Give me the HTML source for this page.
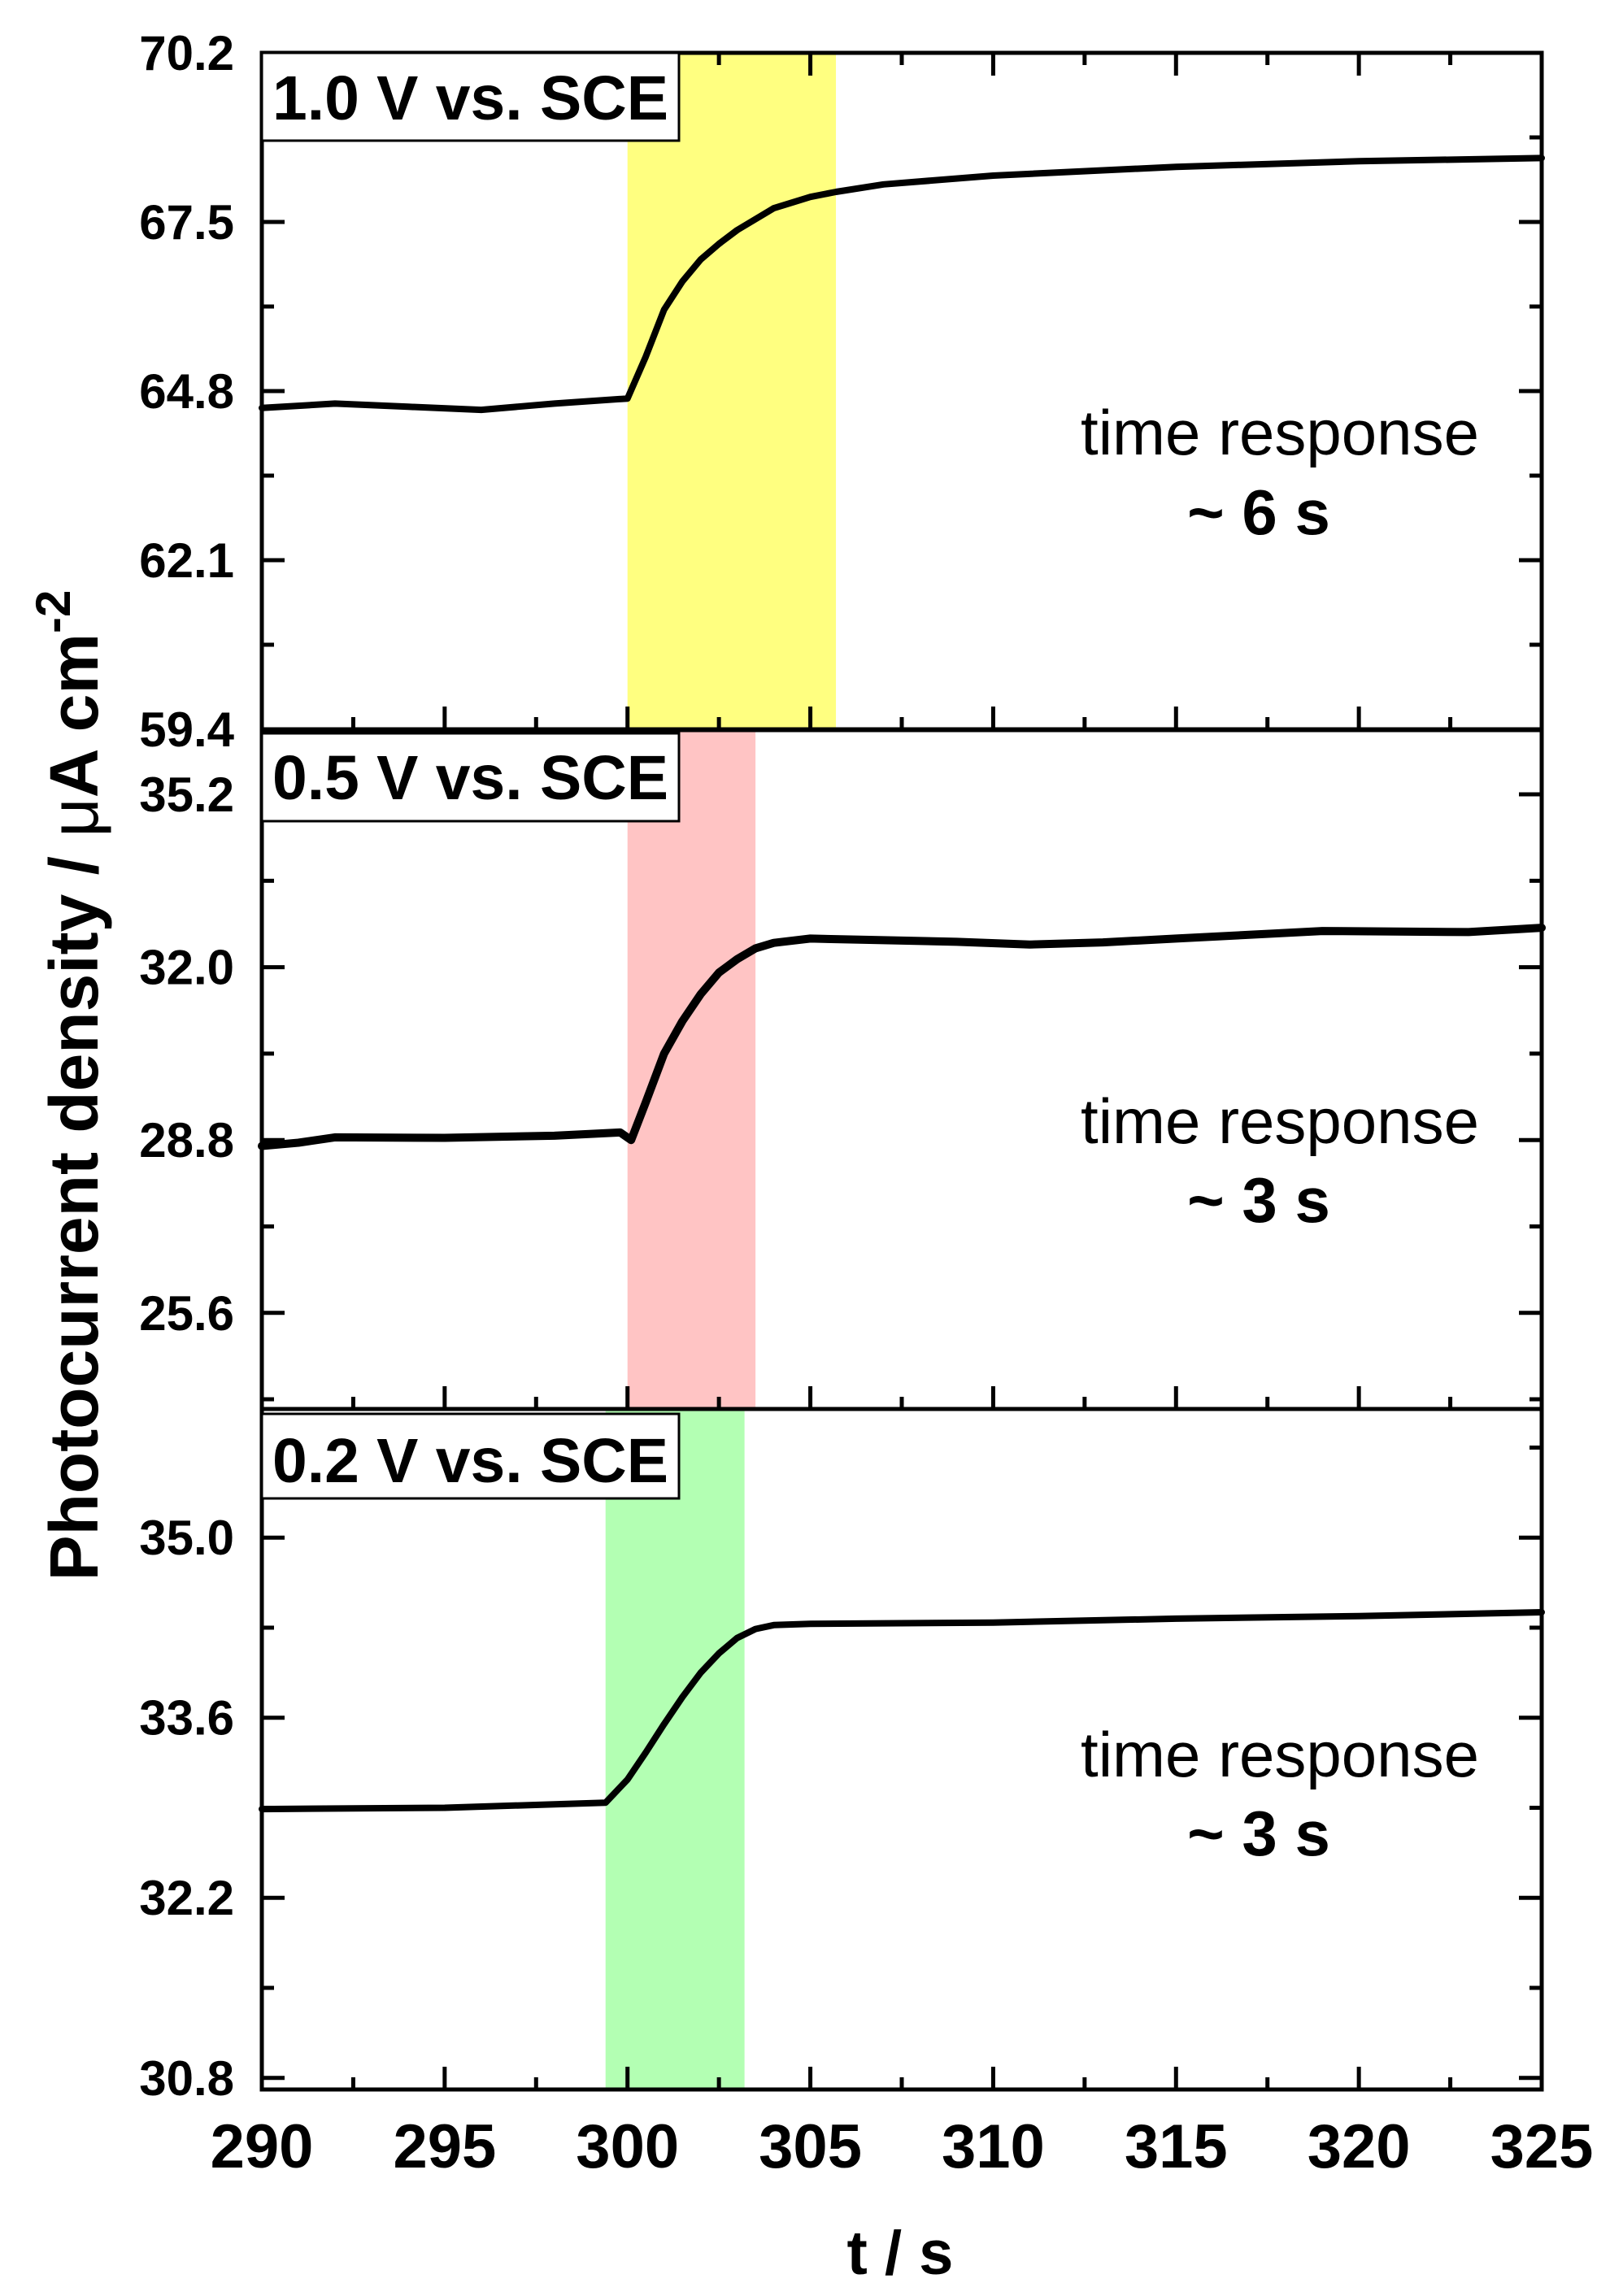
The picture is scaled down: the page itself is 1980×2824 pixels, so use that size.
<!DOCTYPE html>
<html><head><meta charset="utf-8"><style>
html,body{margin:0;padding:0;background:#fff;}
svg{display:block;font-family:"Liberation Sans",Arial,sans-serif;}
</style></head><body>
<svg id="chart" width="1980" height="2824" viewBox="0 0 1980 2824" xmlns="http://www.w3.org/2000/svg"></svg>
<script>
const xTicks = [290,295,300,305,310,315,320,325];
const t1 = [290,292,294,296,298,300,300.5,301,301.5,302,302.5,303,304,305,305.7,307,310,315,320,325];
const v1 = [64.53,64.6,64.55,64.5,64.6,64.68,65.35,66.1,66.55,66.9,67.15,67.37,67.72,67.9,67.98,68.1,68.24,68.38,68.47,68.52];
const t2 = [290,291,292,295,298,299.8,300.1,300.5,301,301.5,302,302.5,303,303.5,304,305,307,309,311,313,315,317,319,321,323,325];
const v2 = [28.69,28.75,28.85,28.84,28.88,28.94,28.8,29.5,30.4,31.0,31.5,31.9,32.15,32.35,32.45,32.53,32.5,32.47,32.42,32.46,32.53,32.6,32.67,32.66,32.65,32.73];
const t3 = [290,295,299.4,300,300.5,301,301.5,302,302.5,303,303.5,304,305,310,315,320,325];
const v3 = [32.89,32.9,32.94,33.12,33.33,33.55,33.76,33.95,34.1,34.22,34.29,34.32,34.33,34.34,34.37,34.39,34.42];
const yTicks1 = [70.2,67.5,64.8,62.1,59.4];
const yTicks2 = [35.2,32.0,28.8,25.6];
const yTicks3 = [35.0,33.6,32.2,30.8];
const labels = ["1.0 V vs. SCE","0.5 V vs. SCE","0.2 V vs. SCE"];
const responses = ["~ 6 s","~ 3 s","~ 3 s"];
const bands = [[300,305.7],[300,303.5],[299.4,303.2]];

const NS="http://www.w3.org/2000/svg";
const svg=document.getElementById('chart');
const L=322,R=1896;
const xs=t=>L+(t-290)/(325-290)*(R-L);
function mk(tag,attrs,parent){const e=document.createElementNS(NS,tag);for(const k in attrs)e.setAttribute(k,attrs[k]);(parent||svg).appendChild(e);return e;}

const panels=[
 {top:65,bot:897,ymax:70.2,ymin:59.4,ticks:yTicks1,minStep:1.35,t:t1,v:v1,color:'#ffff80',box:[65,173,147],resp:[559,657],topTicks:true},
 {top:898,bot:1733,ymax:36.39,ymin:23.82,ticks:yTicks2,minStep:1.6,t:t2,v:v2,color:'#ffc4c4',box:[902,1010,983],resp:[1406,1503],topTicks:false},
 {top:1733,bot:2570,ymax:36.0,ymin:30.71,ticks:yTicks3,minStep:0.7,t:t3,v:v3,color:'#b3ffb3',box:[1739,1843,1823],resp:[2185,2282],topTicks:false}
];

panels.forEach((p,i)=>{
  const ys=v=>p.top+(p.ymax-v)/(p.ymax-p.ymin)*(p.bot-p.top);
  const g=mk('g',{});
  
  
  const b=mk('rect',{x:xs(bands[i][0]),y:p.top,width:xs(bands[i][1])-xs(bands[i][0]),height:p.bot-p.top,fill:p.color},g);
  
  
  const all=[];
  p.ticks.forEach(v=>all.push([v,28]));
  const base=p.ticks[0];
  for(let k=-4;k<20;k++){const v=base+p.minStep-k*2*p.minStep; if(v<p.ymax&&v>p.ymin) all.push([v,15]);}
  all.forEach(([v,len])=>{
    const y=ys(v); if(y<p.top-1||y>p.bot+1) return;
    const a=mk('line',{x1:L,x2:L+len,y1:y,y2:y,stroke:'#000','stroke-width':5},g);
    
    
    const c=mk('line',{x1:R,x2:R-len,y1:y,y2:y,stroke:'#000','stroke-width':5},g);
    
    
  });
  p.ticks.forEach(v=>{
    const tx=mk('text',{x:288,y:ys(v)+21,'text-anchor':'end','font-size':60,'font-weight':'bold'},g);
    tx.textContent=v.toFixed(1);
    
    
  });
  for(let t=290;t<=325;t+=2.5){
    const len=(t%5===0)?28:15;
    const a=mk('line',{x1:xs(t),x2:xs(t),y1:p.bot,y2:p.bot-len,stroke:'#000','stroke-width':5},g);
    
    
    if(p.topTicks){
      const c=mk('line',{x1:xs(t),x2:xs(t),y1:p.top,y2:p.top+len,stroke:'#000','stroke-width':5},g);
      
      
    }
  }
  const d=p.t.map((t,j)=>(j?'L':'M')+xs(t).toFixed(1)+','+ys(p.v[j]).toFixed(1)).join(' ');
  const path=mk('path',{d:d,fill:'none',stroke:'#000','stroke-width':(i===1?10:8),'stroke-linejoin':'round','stroke-linecap':'round'},g);
  
  
  const fr=mk('rect',{x:L,y:p.top,width:R-L,height:p.bot-p.top,fill:'none',stroke:'#000','stroke-width':5},g);
  
  
  const bx=mk('rect',{x:L,y:p.box[0],width:513,height:p.box[1]-p.box[0],fill:'#fff',stroke:'#000','stroke-width':3},g);
  
  
  const lt=mk('text',{x:335,y:p.box[2],'font-size':77,'font-weight':'bold',textLength:487,lengthAdjust:'spacingAndGlyphs'},g);
  lt.textContent=labels[i];
  
  
  const r1=mk('text',{x:1574,y:p.resp[0],'font-size':78,'text-anchor':'middle'},g);
  r1.textContent='time response';
  
  
  const r2=mk('text',{x:1548,y:p.resp[1],'font-size':78,'font-weight':'bold','text-anchor':'middle'},g);
  r2.textContent=responses[i];
  
  
});
xTicks.forEach(t=>{
  const tx=mk('text',{x:xs(t),y:2666,'text-anchor':'middle','font-size':76,'font-weight':'bold'});
  tx.textContent=t;
  
  
});
const xt=mk('text',{x:1107,y:2797,'text-anchor':'middle','font-size':76,'font-weight':'bold'});
xt.textContent='t / s';


const yt=mk('text',{x:0,y:0,'text-anchor':'middle','font-size':84,'font-weight':'bold',transform:'translate(120,1335) rotate(-90)'});
yt.innerHTML='Photocurrent density / <tspan font-weight="normal">μ</tspan>A cm<tspan dy="-34" font-size="60">-2</tspan>';


</script>
</body></html>
